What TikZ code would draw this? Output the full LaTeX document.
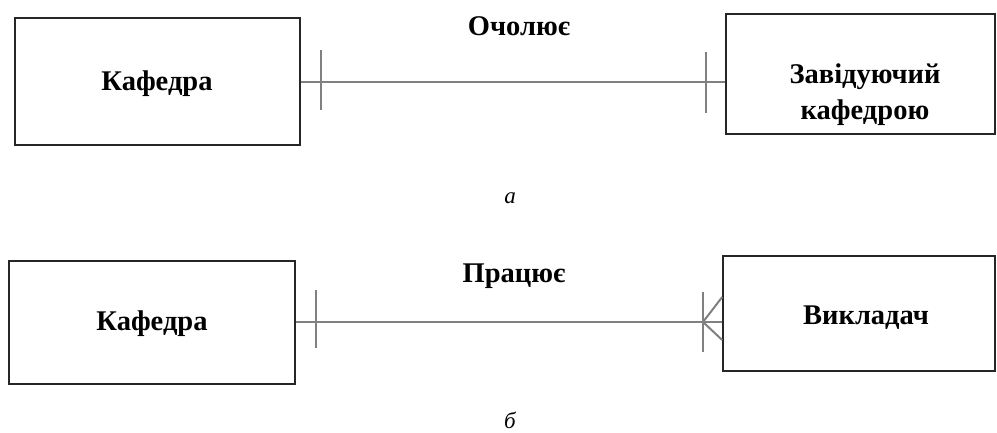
\documentclass[tikz,border=0pt]{standalone}
\usepackage{fontspec}
\setmainfont{Liberation Serif}
\begin{document}
\begin{tikzpicture}[x=1pt,y=-1pt,
  box/.style={draw=black!85, line width=1.6pt, rectangle, inner sep=0pt},
  txt/.style={font=\bfseries\fontsize{28.5}{36}\selectfont, align=center, inner sep=0pt},
  rel/.style={draw=black!50, line width=2pt},
  subcap/.style={font=\itshape\fontsize{23}{26}\selectfont, inner sep=0pt, anchor=base}]
\useasboundingbox (0,0) rectangle (997,432);
% a
\node[box, minimum width=285pt, minimum height=127pt] (k1) at (157.5,81.5) {};
\node[txt] (k1t) at (157,84) {Кафедра};
\node[box, minimum width=269pt, minimum height=120pt] (z) at (860.5,74) {};
\node[txt] (zt) at (865,95) {Завідуючий\\кафедрою};
\draw[rel] (k1.east |- 0,82) coordinate (a1) -- (z.west |- 0,82) coordinate (a2);
\draw[rel] (321,50) -- (321,110);
\draw[rel] (706,52) -- (706,113);
\node[txt, anchor=base] (l1) at (519,35) {Очолює};
\node[subcap] (ca) at (510,203) {а};
% b
\node[box, minimum width=286pt, minimum height=123pt] (k2) at (152,322.5) {};
\node[txt] (k2t) at (152,324) {Кафедра};
\node[box, minimum width=272pt, minimum height=115pt] (v) at (859,313.5) {};
\node[txt] (vt) at (866,318) {Викладач};
\draw[rel] (k2.east |- 0,322) coordinate (b1) -- (v.west |- 0,322) coordinate (b2);
\draw[rel] (316,290) -- (316,348);
\draw[rel] (703,292) -- (703,352);
\draw[rel] (703,322) -- (v.west |- 0,297);
\draw[rel] (703,322) -- (v.west |- 0,340);
\node[txt, anchor=base] (l2) at (514,282) {Працює};
\node[subcap] (cb) at (510,428) {б};
\end{tikzpicture}
\end{document}
